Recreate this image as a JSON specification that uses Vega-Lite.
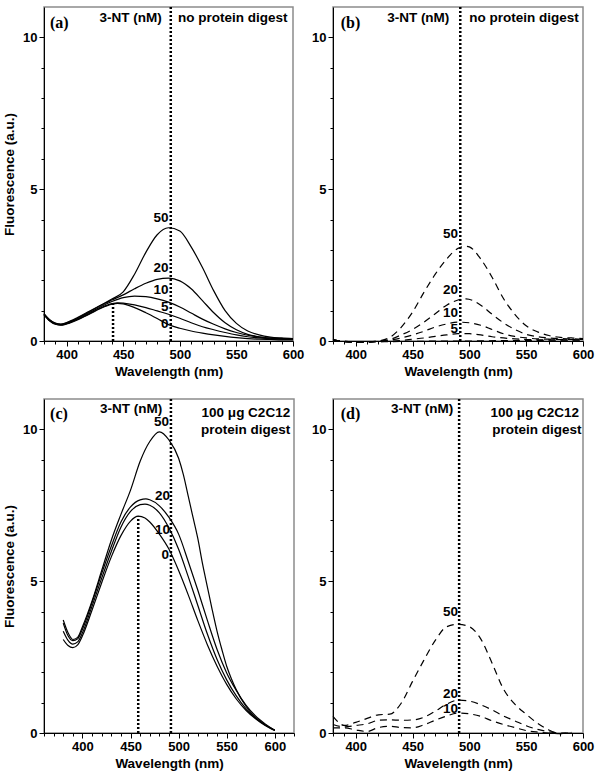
{
  "$schema": "https://vega.github.io/schema/vega-lite/v6.json",
  "padding": {"left": 1, "top": 5, "right": 0, "bottom": 0},
  "background": "white",
  "columns": 2,
  "spacing": {"row": 58, "column": 39},
  "bounds": "flush",
  "config": {
    "font": "Liberation Sans",
    "view": {"stroke": "#8c8c8c", "strokeWidth": 1.5},
    "axis": {"grid": false, "domainColor": "black", "domainWidth": 1, "tickColor": "black", "tickWidth": 1, "labelFont": "Liberation Sans", "labelFontWeight": "bold", "labelFontSize": 13, "labelColor": "black", "titleFont": "Liberation Sans", "titleFontWeight": "bold", "titleFontSize": 13.5, "titleColor": "black", "labelPadding": 2, "labelFlush": false, "labelOverlap": false},
    "text": {"font": "Liberation Sans", "fontWeight": "bold", "fontSize": 13.5, "color": "black"}
  },
  "datasets": {
    "la": [
      {"c":"0","nm":380,"f":0.86},{"c":"0","nm":385,"f":0.66},{"c":"0","nm":390,"f":0.55},{"c":"0","nm":395,"f":0.52},{"c":"0","nm":400,"f":0.56},{"c":"0","nm":410,"f":0.70},{"c":"0","nm":420,"f":0.88},{"c":"0","nm":430,"f":1.07},{"c":"0","nm":440,"f":1.21},{"c":"0","nm":445,"f":1.24},{"c":"0","nm":450,"f":1.22},{"c":"0","nm":460,"f":1.10},{"c":"0","nm":470,"f":0.93},{"c":"0","nm":480,"f":0.74},{"c":"0","nm":490,"f":0.54},{"c":"0","nm":500,"f":0.42},{"c":"0","nm":510,"f":0.33},{"c":"0","nm":520,"f":0.26},{"c":"0","nm":530,"f":0.2},{"c":"0","nm":540,"f":0.15},{"c":"0","nm":550,"f":0.11},{"c":"0","nm":560,"f":0.08},{"c":"0","nm":570,"f":0.06},{"c":"0","nm":580,"f":0.05},{"c":"0","nm":590,"f":0.04},{"c":"0","nm":600,"f":0.04},
      {"c":"5","nm":380,"f":0.87},{"c":"5","nm":385,"f":0.67},{"c":"5","nm":390,"f":0.56},{"c":"5","nm":395,"f":0.53},{"c":"5","nm":400,"f":0.57},{"c":"5","nm":410,"f":0.72},{"c":"5","nm":420,"f":0.9},{"c":"5","nm":430,"f":1.09},{"c":"5","nm":440,"f":1.23},{"c":"5","nm":445,"f":1.26},{"c":"5","nm":450,"f":1.25},{"c":"5","nm":460,"f":1.19},{"c":"5","nm":470,"f":1.1},{"c":"5","nm":480,"f":0.99},{"c":"5","nm":490,"f":0.88},{"c":"5","nm":500,"f":0.75},{"c":"5","nm":510,"f":0.6},{"c":"5","nm":520,"f":0.47},{"c":"5","nm":530,"f":0.37},{"c":"5","nm":540,"f":0.28},{"c":"5","nm":550,"f":0.2},{"c":"5","nm":560,"f":0.14},{"c":"5","nm":570,"f":0.1},{"c":"5","nm":580,"f":0.07},{"c":"5","nm":590,"f":0.06},{"c":"5","nm":600,"f":0.05},
      {"c":"10","nm":380,"f":0.88},{"c":"10","nm":385,"f":0.68},{"c":"10","nm":390,"f":0.57},{"c":"10","nm":395,"f":0.54},{"c":"10","nm":400,"f":0.58},{"c":"10","nm":410,"f":0.74},{"c":"10","nm":420,"f":0.93},{"c":"10","nm":430,"f":1.13},{"c":"10","nm":440,"f":1.3},{"c":"10","nm":450,"f":1.43},{"c":"10","nm":460,"f":1.48},{"c":"10","nm":470,"f":1.46},{"c":"10","nm":480,"f":1.39},{"c":"10","nm":490,"f":1.28},{"c":"10","nm":500,"f":1.12},{"c":"10","nm":510,"f":0.92},{"c":"10","nm":520,"f":0.72},{"c":"10","nm":530,"f":0.55},{"c":"10","nm":540,"f":0.4},{"c":"10","nm":550,"f":0.28},{"c":"10","nm":560,"f":0.19},{"c":"10","nm":570,"f":0.13},{"c":"10","nm":580,"f":0.09},{"c":"10","nm":590,"f":0.07},{"c":"10","nm":600,"f":0.06},
      {"c":"20","nm":380,"f":0.89},{"c":"20","nm":385,"f":0.69},{"c":"20","nm":390,"f":0.58},{"c":"20","nm":395,"f":0.55},{"c":"20","nm":400,"f":0.6},{"c":"20","nm":410,"f":0.76},{"c":"20","nm":420,"f":0.96},{"c":"20","nm":430,"f":1.17},{"c":"20","nm":440,"f":1.35},{"c":"20","nm":450,"f":1.52},{"c":"20","nm":460,"f":1.72},{"c":"20","nm":470,"f":1.9},{"c":"20","nm":480,"f":2.03},{"c":"20","nm":490,"f":2.07},{"c":"20","nm":500,"f":1.98},{"c":"20","nm":510,"f":1.72},{"c":"20","nm":520,"f":1.33},{"c":"20","nm":530,"f":0.93},{"c":"20","nm":540,"f":0.6},{"c":"20","nm":550,"f":0.37},{"c":"20","nm":560,"f":0.22},{"c":"20","nm":570,"f":0.14},{"c":"20","nm":580,"f":0.1},{"c":"20","nm":590,"f":0.08},{"c":"20","nm":600,"f":0.07},
      {"c":"50","nm":380,"f":0.9},{"c":"50","nm":385,"f":0.7},{"c":"50","nm":390,"f":0.59},{"c":"50","nm":395,"f":0.56},{"c":"50","nm":400,"f":0.61},{"c":"50","nm":410,"f":0.78},{"c":"50","nm":420,"f":0.98},{"c":"50","nm":430,"f":1.18},{"c":"50","nm":440,"f":1.38},{"c":"50","nm":450,"f":1.62},{"c":"50","nm":460,"f":2.2},{"c":"50","nm":470,"f":2.92},{"c":"50","nm":480,"f":3.5},{"c":"50","nm":490,"f":3.73},{"c":"50","nm":500,"f":3.62},{"c":"50","nm":510,"f":3.1},{"c":"50","nm":520,"f":2.42},{"c":"50","nm":530,"f":1.65},{"c":"50","nm":540,"f":1.0},{"c":"50","nm":550,"f":0.58},{"c":"50","nm":560,"f":0.33},{"c":"50","nm":570,"f":0.2},{"c":"50","nm":580,"f":0.13},{"c":"50","nm":590,"f":0.1},{"c":"50","nm":600,"f":0.08}
    ],
    "lb": [
      {"c":"0","nm":380,"f":0.03},{"c":"0","nm":400,"f":-0.03},{"c":"0","nm":450,"f":-0.01},{"c":"0","nm":500,"f":0.0},{"c":"0","nm":550,"f":0.02},{"c":"0","nm":600,"f":0.03},
      {"c":"5","nm":380,"f":0.03},{"c":"5","nm":400,"f":-0.03},{"c":"5","nm":420,"f":-0.02},{"c":"5","nm":440,"f":0.02},{"c":"5","nm":450,"f":0.06},{"c":"5","nm":460,"f":0.1},{"c":"5","nm":470,"f":0.15},{"c":"5","nm":480,"f":0.2},{"c":"5","nm":490,"f":0.24},{"c":"5","nm":500,"f":0.24},{"c":"5","nm":510,"f":0.2},{"c":"5","nm":520,"f":0.14},{"c":"5","nm":530,"f":0.1},{"c":"5","nm":540,"f":0.07},{"c":"5","nm":550,"f":0.05},{"c":"5","nm":560,"f":0.04},{"c":"5","nm":580,"f":0.04},{"c":"5","nm":600,"f":0.04},
      {"c":"10","nm":380,"f":0.04},{"c":"10","nm":390,"f":-0.02},{"c":"10","nm":400,"f":-0.03},{"c":"10","nm":410,"f":-0.03},{"c":"10","nm":420,"f":-0.01},{"c":"10","nm":430,"f":0.03},{"c":"10","nm":440,"f":0.1},{"c":"10","nm":450,"f":0.2},{"c":"10","nm":460,"f":0.32},{"c":"10","nm":470,"f":0.46},{"c":"10","nm":480,"f":0.56},{"c":"10","nm":490,"f":0.62},{"c":"10","nm":500,"f":0.6},{"c":"10","nm":510,"f":0.52},{"c":"10","nm":520,"f":0.38},{"c":"10","nm":530,"f":0.24},{"c":"10","nm":540,"f":0.15},{"c":"10","nm":550,"f":0.1},{"c":"10","nm":560,"f":0.07},{"c":"10","nm":570,"f":0.06},{"c":"10","nm":580,"f":0.05},{"c":"10","nm":590,"f":0.05},{"c":"10","nm":600,"f":0.05},
      {"c":"20","nm":380,"f":0.05},{"c":"20","nm":390,"f":-0.02},{"c":"20","nm":400,"f":-0.03},{"c":"20","nm":410,"f":-0.03},{"c":"20","nm":420,"f":0.0},{"c":"20","nm":430,"f":0.05},{"c":"20","nm":440,"f":0.2},{"c":"20","nm":450,"f":0.38},{"c":"20","nm":460,"f":0.62},{"c":"20","nm":470,"f":0.9},{"c":"20","nm":480,"f":1.18},{"c":"20","nm":490,"f":1.35},{"c":"20","nm":497,"f":1.39},{"c":"20","nm":510,"f":1.18},{"c":"20","nm":520,"f":0.88},{"c":"20","nm":530,"f":0.6},{"c":"20","nm":540,"f":0.38},{"c":"20","nm":550,"f":0.22},{"c":"20","nm":560,"f":0.14},{"c":"20","nm":570,"f":0.1},{"c":"20","nm":580,"f":0.08},{"c":"20","nm":590,"f":0.07},{"c":"20","nm":600,"f":0.06},
      {"c":"50","nm":380,"f":0.05},{"c":"50","nm":390,"f":-0.02},{"c":"50","nm":400,"f":-0.03},{"c":"50","nm":410,"f":-0.03},{"c":"50","nm":420,"f":0.0},{"c":"50","nm":430,"f":0.12},{"c":"50","nm":440,"f":0.45},{"c":"50","nm":450,"f":0.95},{"c":"50","nm":460,"f":1.6},{"c":"50","nm":470,"f":2.2},{"c":"50","nm":480,"f":2.7},{"c":"50","nm":490,"f":3.05},{"c":"50","nm":497,"f":3.12},{"c":"50","nm":500,"f":3.1},{"c":"50","nm":510,"f":2.7},{"c":"50","nm":520,"f":2.1},{"c":"50","nm":530,"f":1.4},{"c":"50","nm":540,"f":0.88},{"c":"50","nm":550,"f":0.5},{"c":"50","nm":560,"f":0.3},{"c":"50","nm":570,"f":0.18},{"c":"50","nm":580,"f":0.12},{"c":"50","nm":590,"f":0.1},{"c":"50","nm":600,"f":0.08}
    ],
    "lc": [
      {"c":"0","nm":380,"f":3.08},{"c":"0","nm":385,"f":2.88},{"c":"0","nm":390,"f":2.81},{"c":"0","nm":395,"f":2.9},{"c":"0","nm":400,"f":3.2},{"c":"0","nm":410,"f":4.05},{"c":"0","nm":420,"f":4.95},{"c":"0","nm":430,"f":5.8},{"c":"0","nm":440,"f":6.5},{"c":"0","nm":450,"f":6.98},{"c":"0","nm":458,"f":7.14},{"c":"0","nm":465,"f":7.08},{"c":"0","nm":470,"f":6.95},{"c":"0","nm":480,"f":6.55},{"c":"0","nm":490,"f":6.05},{"c":"0","nm":500,"f":5.35},{"c":"0","nm":510,"f":4.55},{"c":"0","nm":520,"f":3.7},{"c":"0","nm":530,"f":2.9},{"c":"0","nm":540,"f":2.2},{"c":"0","nm":550,"f":1.6},{"c":"0","nm":560,"f":1.12},{"c":"0","nm":570,"f":0.75},{"c":"0","nm":580,"f":0.47},{"c":"0","nm":590,"f":0.25},{"c":"0","nm":600,"f":0.08},
      {"c":"10","nm":380,"f":3.35},{"c":"10","nm":385,"f":3.05},{"c":"10","nm":390,"f":2.93},{"c":"10","nm":395,"f":3.0},{"c":"10","nm":400,"f":3.3},{"c":"10","nm":410,"f":4.18},{"c":"10","nm":420,"f":5.1},{"c":"10","nm":430,"f":5.98},{"c":"10","nm":440,"f":6.78},{"c":"10","nm":450,"f":7.3},{"c":"10","nm":460,"f":7.52},{"c":"10","nm":465,"f":7.54},{"c":"10","nm":470,"f":7.5},{"c":"10","nm":480,"f":7.25},{"c":"10","nm":490,"f":6.75},{"c":"10","nm":500,"f":6.05},{"c":"10","nm":510,"f":5.15},{"c":"10","nm":520,"f":4.2},{"c":"10","nm":530,"f":3.25},{"c":"10","nm":540,"f":2.42},{"c":"10","nm":550,"f":1.75},{"c":"10","nm":560,"f":1.22},{"c":"10","nm":570,"f":0.8},{"c":"10","nm":580,"f":0.5},{"c":"10","nm":590,"f":0.27},{"c":"10","nm":600,"f":0.09},
      {"c":"20","nm":380,"f":3.62},{"c":"20","nm":385,"f":3.2},{"c":"20","nm":390,"f":3.04},{"c":"20","nm":395,"f":3.1},{"c":"20","nm":400,"f":3.42},{"c":"20","nm":410,"f":4.3},{"c":"20","nm":420,"f":5.25},{"c":"20","nm":430,"f":6.15},{"c":"20","nm":440,"f":6.95},{"c":"20","nm":450,"f":7.45},{"c":"20","nm":460,"f":7.68},{"c":"20","nm":466,"f":7.71},{"c":"20","nm":470,"f":7.68},{"c":"20","nm":480,"f":7.48},{"c":"20","nm":490,"f":7.1},{"c":"20","nm":500,"f":6.55},{"c":"20","nm":510,"f":5.65},{"c":"20","nm":520,"f":4.7},{"c":"20","nm":530,"f":3.7},{"c":"20","nm":540,"f":2.75},{"c":"20","nm":550,"f":1.98},{"c":"20","nm":560,"f":1.4},{"c":"20","nm":570,"f":0.92},{"c":"20","nm":580,"f":0.56},{"c":"20","nm":590,"f":0.3},{"c":"20","nm":600,"f":0.09},
      {"c":"50","nm":380,"f":3.72},{"c":"50","nm":385,"f":3.3},{"c":"50","nm":390,"f":3.08},{"c":"50","nm":395,"f":3.15},{"c":"50","nm":400,"f":3.5},{"c":"50","nm":410,"f":4.35},{"c":"50","nm":420,"f":5.35},{"c":"50","nm":430,"f":6.35},{"c":"50","nm":440,"f":7.2},{"c":"50","nm":450,"f":8.0},{"c":"50","nm":460,"f":8.95},{"c":"50","nm":470,"f":9.6},{"c":"50","nm":480,"f":9.92},{"c":"50","nm":490,"f":9.65},{"c":"50","nm":500,"f":9.05},{"c":"50","nm":505,"f":8.5},{"c":"50","nm":510,"f":7.8},{"c":"50","nm":515,"f":7.1},{"c":"50","nm":520,"f":6.4},{"c":"50","nm":525,"f":5.55},{"c":"50","nm":530,"f":4.8},{"c":"50","nm":535,"f":4.05},{"c":"50","nm":540,"f":3.35},{"c":"50","nm":545,"f":2.75},{"c":"50","nm":550,"f":2.2},{"c":"50","nm":555,"f":1.78},{"c":"50","nm":560,"f":1.42},{"c":"50","nm":570,"f":0.88},{"c":"50","nm":580,"f":0.5},{"c":"50","nm":590,"f":0.26},{"c":"50","nm":600,"f":0.09}
    ],
    "ld": [
      {"c":"10","nm":380,"f":0.17},{"c":"10","nm":390,"f":0.17},{"c":"10","nm":400,"f":0.1},{"c":"10","nm":410,"f":0.05},{"c":"10","nm":420,"f":0.18},{"c":"10","nm":430,"f":0.22},{"c":"10","nm":440,"f":0.18},{"c":"10","nm":450,"f":0.17},{"c":"10","nm":460,"f":0.27},{"c":"10","nm":470,"f":0.42},{"c":"10","nm":480,"f":0.56},{"c":"10","nm":490,"f":0.66},{"c":"10","nm":500,"f":0.63},{"c":"10","nm":510,"f":0.55},{"c":"10","nm":520,"f":0.4},{"c":"10","nm":530,"f":0.28},{"c":"10","nm":540,"f":0.18},{"c":"10","nm":550,"f":0.08},{"c":"10","nm":560,"f":0.03},{"c":"10","nm":570,"f":0.0},{"c":"10","nm":580,"f":-0.02},{"c":"10","nm":590,"f":0.0},
      {"c":"20","nm":380,"f":0.28},{"c":"20","nm":390,"f":0.2},{"c":"20","nm":400,"f":0.25},{"c":"20","nm":410,"f":0.3},{"c":"20","nm":420,"f":0.42},{"c":"20","nm":430,"f":0.43},{"c":"20","nm":440,"f":0.42},{"c":"20","nm":450,"f":0.43},{"c":"20","nm":460,"f":0.52},{"c":"20","nm":470,"f":0.72},{"c":"20","nm":480,"f":0.95},{"c":"20","nm":490,"f":1.08},{"c":"20","nm":500,"f":1.05},{"c":"20","nm":510,"f":0.93},{"c":"20","nm":520,"f":0.76},{"c":"20","nm":530,"f":0.56},{"c":"20","nm":540,"f":0.4},{"c":"20","nm":550,"f":0.24},{"c":"20","nm":560,"f":0.12},{"c":"20","nm":570,"f":0.04},{"c":"20","nm":580,"f":0.0},{"c":"20","nm":590,"f":0.0},
      {"c":"50","nm":380,"f":0.55},{"c":"50","nm":390,"f":0.25},{"c":"50","nm":400,"f":0.35},{"c":"50","nm":410,"f":0.48},{"c":"50","nm":420,"f":0.6},{"c":"50","nm":430,"f":0.62},{"c":"50","nm":440,"f":0.98},{"c":"50","nm":450,"f":1.7},{"c":"50","nm":460,"f":2.4},{"c":"50","nm":470,"f":3.05},{"c":"50","nm":480,"f":3.5},{"c":"50","nm":490,"f":3.58},{"c":"50","nm":500,"f":3.5},{"c":"50","nm":510,"f":3.1},{"c":"50","nm":520,"f":2.3},{"c":"50","nm":530,"f":1.45},{"c":"50","nm":540,"f":0.95},{"c":"50","nm":550,"f":0.62},{"c":"50","nm":560,"f":0.32},{"c":"50","nm":570,"f":0.1},{"c":"50","nm":580,"f":-0.02},{"c":"50","nm":590,"f":0.02}
    ]
  },
  "concat": [
    {
      "width": 249, "height": 334,
      "resolve": {"axis": {"x": "independent", "y": "independent"}},
      "layer": [
        {"data": {"name": "la"}, "mark": {"type": "line", "color": "black", "strokeWidth": 1.2, "interpolate": "monotone"},
         "encoding": {
           "x": {"field": "nm", "type": "quantitative", "scale": {"domain": [380, 600], "nice": false, "zero": false},
                 "axis": {"title": "Wavelength (nm)", "orient": "bottom", "values": [400, 450, 500, 550, 600], "tickSize": 5, "labelPadding": 2, "titlePadding": 3, "labelOverlap": false, "labelFlush": false}},
           "y": {"field": "f", "type": "quantitative", "scale": {"domain": [0, 11], "nice": false, "zero": false},
                 "axis": {"title": "Fluorescence (a.u.)", "orient": "left", "values": [0, 5, 10], "tickSize": 5, "titlePadding": 6, "labelOverlap": false, "labelFlush": false}},
           "detail": {"field": "c"}}},
        {"data": {"values": [{"nm": 492, "f": 0, "f2": 11}, {"nm": 441, "f": 0, "f2": 1.28}]},
         "mark": {"type": "rule", "color": "black", "strokeWidth": 2.5, "strokeDash": [2, 2]},
         "encoding": {
           "x": {"field": "nm", "type": "quantitative", "axis": {"orient": "bottom", "title": null, "values": [380,390,410,420,430,440,460,470,480,490,510,520,530,540,560,570,580,590], "labels": false, "domain": false, "tickSize": 3}},
           "y": {"field": "f", "type": "quantitative", "axis": {"orient": "left", "title": null, "values": [1,2,3,4,6,7,8,9], "labels": false, "domain": false, "tickSize": 3}},
           "y2": {"field": "f2"}}},
        {"data": {"values": [{"nm": 484, "f": 10.63, "t": "3-NT (nM)"}, {"nm": 490, "f": 4.05, "t": "50"}, {"nm": 490, "f": 2.4, "t": "20"}, {"nm": 490, "f": 1.68, "t": "10"}, {"nm": 490, "f": 1.12, "t": "5"}, {"nm": 490, "f": 0.57, "t": "0"}]},
         "mark": {"type": "text", "align": "right", "baseline": "middle"},
         "encoding": {"x": {"field": "nm", "type": "quantitative", "axis": null}, "y": {"field": "f", "type": "quantitative", "axis": null}, "text": {"field": "t"}}},
        {"data": {"values": [{"nm": 498.5, "f": 10.63, "t": "no protein digest"}]},
         "mark": {"type": "text", "align": "left", "baseline": "middle"},
         "encoding": {"x": {"field": "nm", "type": "quantitative", "axis": null}, "y": {"field": "f", "type": "quantitative", "axis": null}, "text": {"field": "t"}}},
        {"data": {"values": [{"nm": 385.3, "f": 10.47, "t": "(a)"}]},
         "mark": {"type": "text", "align": "left", "baseline": "middle", "font": "Liberation Serif", "fontSize": 16},
         "encoding": {"x": {"field": "nm", "type": "quantitative", "axis": null}, "y": {"field": "f", "type": "quantitative", "axis": null}, "text": {"field": "t"}}}
      ]
    },
    {
      "width": 250, "height": 334,
      "resolve": {"axis": {"x": "independent", "y": "independent"}},
      "layer": [
        {"data": {"name": "lb"}, "mark": {"type": "line", "color": "black", "strokeWidth": 1.2, "strokeDash": [7, 5], "interpolate": "monotone"},
         "encoding": {
           "x": {"field": "nm", "type": "quantitative", "scale": {"domain": [380, 600], "nice": false, "zero": false},
                 "axis": {"title": "Wavelength (nm)", "orient": "bottom", "values": [400, 450, 500, 550, 600], "tickSize": 5, "labelPadding": 2, "titlePadding": 3, "labelOverlap": false, "labelFlush": false}},
           "y": {"field": "f", "type": "quantitative", "scale": {"domain": [0, 11], "nice": false, "zero": false},
                 "axis": {"title": null, "orient": "left", "values": [0, 5, 10], "tickSize": 5, "labelOverlap": false, "labelFlush": false}},
           "detail": {"field": "c"}}},
        {"data": {"values": [{"nm": 492, "f": 0, "f2": 11}]},
         "mark": {"type": "rule", "color": "black", "strokeWidth": 2.5, "strokeDash": [2, 2]},
         "encoding": {
           "x": {"field": "nm", "type": "quantitative", "axis": {"orient": "bottom", "title": null, "values": [380,390,410,420,430,440,460,470,480,490,510,520,530,540,560,570,580,590], "labels": false, "domain": false, "tickSize": 3}},
           "y": {"field": "f", "type": "quantitative", "axis": {"orient": "left", "title": null, "values": [1,2,3,4,6,7,8,9], "labels": false, "domain": false, "tickSize": 3}},
           "y2": {"field": "f2"}}},
        {"data": {"values": [{"nm": 482.4, "f": 10.63, "t": "3-NT (nM)"}, {"nm": 490, "f": 3.53, "t": "50"}, {"nm": 490, "f": 1.67, "t": "20"}, {"nm": 490, "f": 0.92, "t": "10"}, {"nm": 490, "f": 0.4, "t": "5"}]},
         "mark": {"type": "text", "align": "right", "baseline": "middle"},
         "encoding": {"x": {"field": "nm", "type": "quantitative", "axis": null}, "y": {"field": "f", "type": "quantitative", "axis": null}, "text": {"field": "t"}}},
        {"data": {"values": [{"nm": 500, "f": 10.63, "t": "no protein digest"}]},
         "mark": {"type": "text", "align": "left", "baseline": "middle"},
         "encoding": {"x": {"field": "nm", "type": "quantitative", "axis": null}, "y": {"field": "f", "type": "quantitative", "axis": null}, "text": {"field": "t"}}},
        {"data": {"values": [{"nm": 386.8, "f": 10.47, "t": "(b)"}]},
         "mark": {"type": "text", "align": "left", "baseline": "middle", "font": "Liberation Serif", "fontSize": 16},
         "encoding": {"x": {"field": "nm", "type": "quantitative", "axis": null}, "y": {"field": "f", "type": "quantitative", "axis": null}, "text": {"field": "t"}}}
      ]
    },
    {
      "width": 250, "height": 334,
      "resolve": {"axis": {"x": "independent", "y": "independent"}},
      "layer": [
        {"data": {"name": "lc"}, "mark": {"type": "line", "color": "black", "strokeWidth": 1.2, "interpolate": "monotone"},
         "encoding": {
           "x": {"field": "nm", "type": "quantitative", "scale": {"domain": [360, 620], "nice": false, "zero": false},
                 "axis": {"title": "Wavelength (nm)", "orient": "bottom", "values": [400, 450, 500, 550, 600], "tickSize": 5, "labelPadding": 2, "titlePadding": 3, "labelOverlap": false, "labelFlush": false}},
           "y": {"field": "f", "type": "quantitative", "scale": {"domain": [0, 11], "nice": false, "zero": false},
                 "axis": {"title": "Fluorescence (a.u.)", "orient": "left", "values": [0, 5, 10], "tickSize": 5, "titlePadding": 6, "labelOverlap": false, "labelFlush": false}},
           "detail": {"field": "c"}}},
        {"data": {"values": [{"nm": 492, "f": 0, "f2": 11}, {"nm": 458, "f": 0, "f2": 7.14}]},
         "mark": {"type": "rule", "color": "black", "strokeWidth": 2.5, "strokeDash": [2, 2]},
         "encoding": {
           "x": {"field": "nm", "type": "quantitative", "axis": {"orient": "bottom", "title": null, "values": [360,370,380,390,410,420,430,440,460,470,480,490,510,520,530,540,560,570,580,590,610,620], "labels": false, "domain": false, "tickSize": 3}},
           "y": {"field": "f", "type": "quantitative", "axis": {"orient": "left", "title": null, "values": [1,2,3,4,6,7,8,9], "labels": false, "domain": false, "tickSize": 3}},
           "y2": {"field": "f2"}}},
        {"data": {"values": [{"nm": 483, "f": 10.68, "t": "3-NT (nM)"}, {"nm": 490, "f": 10.25, "t": "50"}, {"nm": 491, "f": 7.8, "t": "20"}, {"nm": 491, "f": 6.7, "t": "10"}, {"nm": 490, "f": 5.87, "t": "0"}, {"nm": 616, "f": 10.55, "t": "100 μg C2C12"}, {"nm": 616, "f": 9.98, "t": "protein digest"}]},
         "mark": {"type": "text", "align": "right", "baseline": "middle"},
         "encoding": {"x": {"field": "nm", "type": "quantitative", "axis": null}, "y": {"field": "f", "type": "quantitative", "axis": null}, "text": {"field": "t"}}},
        {"data": {"values": [{"nm": 366.3, "f": 10.5, "t": "(c)"}]},
         "mark": {"type": "text", "align": "left", "baseline": "middle", "font": "Liberation Serif", "fontSize": 16},
         "encoding": {"x": {"field": "nm", "type": "quantitative", "axis": null}, "y": {"field": "f", "type": "quantitative", "axis": null}, "text": {"field": "t"}}}
      ]
    },
    {
      "width": 250, "height": 334,
      "resolve": {"axis": {"x": "independent", "y": "independent"}},
      "layer": [
        {"data": {"name": "ld"}, "mark": {"type": "line", "color": "black", "strokeWidth": 1.2, "strokeDash": [7, 5], "interpolate": "monotone"},
         "encoding": {
           "x": {"field": "nm", "type": "quantitative", "scale": {"domain": [380, 600], "nice": false, "zero": false},
                 "axis": {"title": "Wavelength (nm)", "orient": "bottom", "values": [400, 450, 500, 550, 600], "tickSize": 5, "labelPadding": 2, "titlePadding": 3, "labelOverlap": false, "labelFlush": false}},
           "y": {"field": "f", "type": "quantitative", "scale": {"domain": [0, 11], "nice": false, "zero": false},
                 "axis": {"title": null, "orient": "left", "values": [0, 5, 10], "tickSize": 5, "labelOverlap": false, "labelFlush": false}},
           "detail": {"field": "c"}}},
        {"data": {"values": [{"nm": 491, "f": 0, "f2": 11}]},
         "mark": {"type": "rule", "color": "black", "strokeWidth": 2.5, "strokeDash": [2, 2]},
         "encoding": {
           "x": {"field": "nm", "type": "quantitative", "axis": {"orient": "bottom", "title": null, "values": [380,390,410,420,430,440,460,470,480,490,510,520,530,540,560,570,580,590], "labels": false, "domain": false, "tickSize": 3}},
           "y": {"field": "f", "type": "quantitative", "axis": {"orient": "left", "title": null, "values": [1,2,3,4,6,7,8,9], "labels": false, "domain": false, "tickSize": 3}},
           "y2": {"field": "f2"}}},
        {"data": {"values": [{"nm": 485.9, "f": 10.68, "t": "3-NT (nM)"}, {"nm": 490, "f": 4.0, "t": "50"}, {"nm": 490, "f": 1.3, "t": "20"}, {"nm": 490, "f": 0.8, "t": "10"}, {"nm": 596.5, "f": 10.55, "t": "100 μg C2C12"}, {"nm": 598.6, "f": 9.98, "t": "protein digest"}]},
         "mark": {"type": "text", "align": "right", "baseline": "middle"},
         "encoding": {"x": {"field": "nm", "type": "quantitative", "axis": null}, "y": {"field": "f", "type": "quantitative", "axis": null}, "text": {"field": "t"}}},
        {"data": {"values": [{"nm": 386.8, "f": 10.5, "t": "(d)"}]},
         "mark": {"type": "text", "align": "left", "baseline": "middle", "font": "Liberation Serif", "fontSize": 16},
         "encoding": {"x": {"field": "nm", "type": "quantitative", "axis": null}, "y": {"field": "f", "type": "quantitative", "axis": null}, "text": {"field": "t"}}}
      ]
    }
  ]
}
